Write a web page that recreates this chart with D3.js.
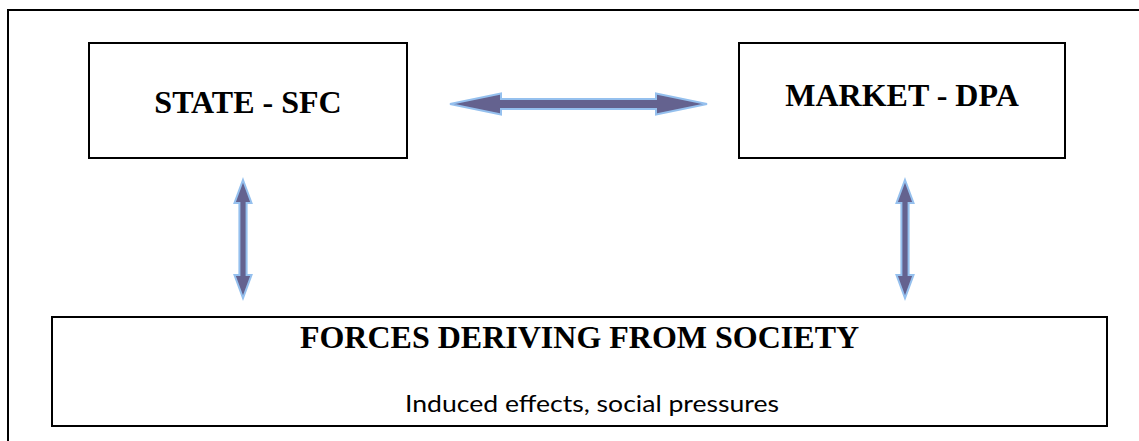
<!DOCTYPE html>
<html>
<head>
<meta charset="utf-8">
<script src="https://cdn.jsdelivr.net/npm/d3@7"></script>
<style>
  body { margin: 0; background: #fff; }
  svg { display: block; }
</style>
</head>
<body>
<script>
// labels
const boxLabels = ["STATE - SFC", "MARKET - DPA", "FORCES DERIVING FROM SOCIETY"];
const subLabels = ["", "", "Induced effects, social pressures"];

// links between boxes (index pairs), all two-way
const links = [[0, 1], [0, 2], [1, 2]];

// layout (pixels)
const W = 1139, H = 441;
const layout = {
  frame: { x: 8, y: 10 },
  boxes: [
    { x0: 89, x1: 407, y0: 43, y1: 158, base: 113 },
    { x0: 739, x1: 1065, y0: 43, y1: 158, base: 106 },
    { x0: 52, x1: 1107, y0: 317, y1: 426, base: 348, sub: 412, subX: 592 }
  ],
  arrows: [
    { x1: 450, y1: 104, x2: 707, y2: 104, shaft: 5, head: 10.5, len: 51 },
    { x1: 243, y1: 180, x2: 243, y2: 298, shaft: 3.6, head: 8.5, len: 23 },
    { x1: 905, y1: 180, x2: 905, y2: 298, shaft: 3.6, head: 8.5, len: 23 }
  ]
};

const svg = d3.select("body")
  .append("svg")
    .attr("width", W)
    .attr("height", H);

// outer frame runs off the right and bottom edges
svg.append("rect")
  .attr("x", layout.frame.x)
  .attr("y", layout.frame.y)
  .attr("width", W)
  .attr("height", H)
  .attr("fill", "none")
  .attr("stroke", "#000")
  .attr("stroke-width", 2);

// boxes
const boxes = svg.selectAll("g.box")
  .data(boxLabels)
  .enter()
  .append("g")
    .attr("class", "box");

boxes.append("rect")
  .attr("x", (d, i) => layout.boxes[i].x0)
  .attr("y", (d, i) => layout.boxes[i].y0)
  .attr("width", (d, i) => layout.boxes[i].x1 - layout.boxes[i].x0)
  .attr("height", (d, i) => layout.boxes[i].y1 - layout.boxes[i].y0)
  .attr("fill", "#fff")
  .attr("stroke", "#000")
  .attr("stroke-width", 2);

boxes.append("text")
  .attr("x", (d, i) => (layout.boxes[i].x0 + layout.boxes[i].x1) / 2)
  .attr("y", (d, i) => layout.boxes[i].base)
  .attr("text-anchor", "middle")
  .style("font-family", "'Liberation Serif', 'Times New Roman', serif")
  .style("font-weight", "bold")
  .style("font-size", "32px")
  .attr("fill", "#000")
  .text(d => d);

boxes.filter((d, i) => subLabels[i])
  .append("text")
    .attr("x", d => layout.boxes[boxLabels.indexOf(d)].subX)
    .attr("y", d => layout.boxes[boxLabels.indexOf(d)].sub)
    .attr("text-anchor", "middle")
    .attr("textLength", 374)
    .attr("lengthAdjust", "spacingAndGlyphs")
    .style("font-family", "Lato, 'Open Sans', sans-serif")
    .style("font-size", "23px")
    .attr("fill", "#000")
    .text(d => subLabels[boxLabels.indexOf(d)]);

// double headed block arrows
function arrowPath(a) {
  const dx = a.x2 - a.x1, dy = a.y2 - a.y1;
  const L = Math.hypot(dx, dy);
  const p = d3.path();
  const pts = [
    [0, 0], [a.len, -a.head], [a.len, -a.shaft], [L - a.len, -a.shaft],
    [L - a.len, -a.head], [L, 0], [L - a.len, a.head], [L - a.len, a.shaft],
    [a.len, a.shaft], [a.len, a.head]
  ];
  const ux = dx / L, uy = dy / L;
  pts.forEach(([u, v], i) => {
    const x = a.x1 + u * ux - v * uy;
    const y = a.y1 + u * uy + v * ux;
    if (i === 0) p.moveTo(x, y); else p.lineTo(x, y);
  });
  p.closePath();
  return p.toString();
}

svg.selectAll("path.arrow")
  .data(links)
  .enter()
  .append("path")
    .attr("class", "arrow")
    .attr("d", (d, i) => arrowPath(layout.arrows[i]))
    .attr("fill", "#64628f")
    .attr("stroke", "#95c0ee")
    .attr("stroke-width", 2)
    .attr("stroke-linejoin", "miter");
</script>
</body>
</html>
